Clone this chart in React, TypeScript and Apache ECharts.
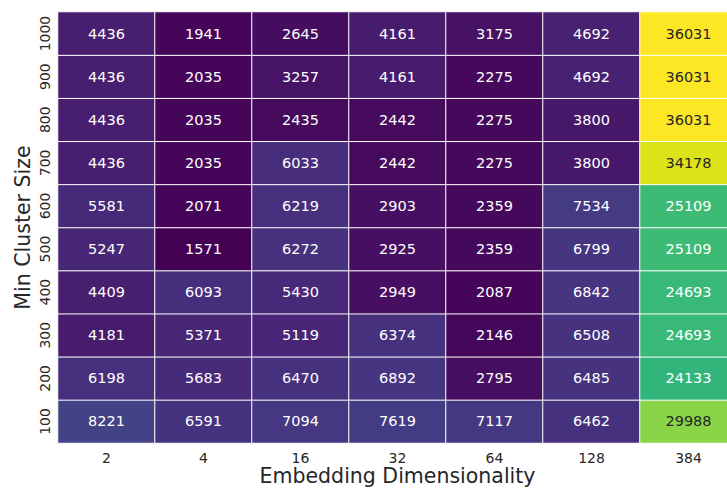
import React, { useEffect, useRef } from "react";
import * as echarts from "echarts";

// Embedding dimensionality (columns) and minimum cluster size (rows, bottom to top)
const dimensions = ["2", "4", "16", "32", "64", "128", "384"];
const clusterSizes = ["100", "200", "300", "400", "500", "600", "700", "800", "900", "1000"];

// One array per embedding dimension, ordered by min cluster size 100 → 1000
const dim2 = [8221, 6198, 4181, 4409, 5247, 5581, 4436, 4436, 4436, 4436];
const dim4 = [6591, 5683, 5371, 6093, 1571, 2071, 2035, 2035, 2035, 1941];
const dim16 = [7094, 6470, 5119, 5430, 6272, 6219, 6033, 2435, 3257, 2645];
const dim32 = [7619, 6892, 6374, 2949, 2925, 2903, 2442, 2442, 4161, 4161];
const dim64 = [7117, 2795, 2146, 2087, 2359, 2359, 2275, 2275, 2275, 3175];
const dim128 = [6462, 6485, 6508, 6842, 6799, 7534, 3800, 3800, 4692, 4692];
const dim384 = [29988, 24133, 24693, 24693, 25109, 25109, 34178, 36031, 36031, 36031];

const columns = [dim2, dim4, dim16, dim32, dim64, dim128, dim384];

// viridis sampled every 5%
const viridis = [
  "#440154", "#471365", "#482475", "#463480", "#414487", "#3b528b", "#355f8d",
  "#2f6c8e", "#2a788e", "#25848e", "#21918c", "#1e9c89", "#22a884", "#2fb47c",
  "#44bf70", "#5ec962", "#7ad151", "#9bd93c", "#bddf26", "#dfe318", "#fde725",
];

const hexToRgb = (h: string) => [
  parseInt(h.slice(1, 3), 16),
  parseInt(h.slice(3, 5), 16),
  parseInt(h.slice(5, 7), 16),
];

const colorAt = (t: number) => {
  const p = Math.min(Math.max(t, 0), 1) * (viridis.length - 1);
  const i = Math.min(Math.floor(p), viridis.length - 2);
  const f = p - i;
  const a = hexToRgb(viridis[i]);
  const b = hexToRgb(viridis[i + 1]);
  return a.map((v, k) => v + (b[k] - v) * f);
};

const luminance = (rgb: number[]) => {
  const c = rgb.map((v) => {
    const s = v / 255;
    return s <= 0.03928 ? s / 12.92 : Math.pow((s + 0.055) / 1.055, 2.4);
  });
  return 0.2126 * c[0] + 0.7152 * c[1] + 0.0722 * c[2];
};

const FONT = "DejaVu Sans";
const INK = "#262626";

export default function App() {
  const ref = useRef<HTMLDivElement>(null);

  useEffect(() => {
    if (!ref.current) return;
    const chart = echarts.init(ref.current, undefined, { renderer: "svg" });

    const all = columns.flat();
    const vmin = Math.min(...all);
    const vmax = Math.max(...all);

    const data = columns.flatMap((col, x) =>
      col.map((v, y) => {
        const lum = luminance(colorAt((v - vmin) / (vmax - vmin)));
        return {
          value: [x, y, v],
          label: { color: lum > 0.408 ? INK : "#ffffff" },
        };
      })
    );

    chart.setOption({
      animation: false,
      backgroundColor: "#ffffff",
      textStyle: { fontFamily: FONT },
      // the last column runs past the right edge of the canvas
      grid: { left: 58, top: 12, width: 679, height: 431, outerBoundsMode: "none", containLabel: false },
      xAxis: {
        type: "category",
        data: dimensions,
        name: "Embedding Dimensionality",
        nameLocation: "middle",
        nameGap: 23,
        nameMoveOverlap: false,
        nameTextStyle: { fontSize: 20.5, lineHeight: 20, color: INK, fontFamily: FONT },
        axisLine: { show: false },
        axisTick: { show: false },
        splitLine: { show: false },
        axisLabel: { fontSize: 14, lineHeight: 14, color: INK, margin: 8, interval: 0, fontFamily: FONT },
      },
      yAxis: {
        type: "category",
        data: clusterSizes,
        name: "Min Cluster Size",
        nameLocation: "middle",
        nameGap: 25,
        nameMoveOverlap: false,
        nameTextStyle: { fontSize: 20.5, color: INK, fontFamily: FONT },
        axisLine: { show: false },
        axisTick: { show: false },
        splitLine: { show: false },
        axisLabel: { fontSize: 14, color: INK, margin: 6, rotate: 90, interval: 0, fontFamily: FONT },
      },
      visualMap: {
        show: false,
        type: "continuous",
        min: vmin,
        max: vmax,
        dimension: 2,
        inRange: { color: viridis },
      },
      series: [
        {
          type: "heatmap",
          data,
          itemStyle: { borderColor: "#ffffff", borderWidth: 1 },
          label: { show: true, fontSize: 14.5, fontFamily: FONT },
          emphasis: { disabled: true },
        },
      ],
    });

    return () => chart.dispose();
  }, []);

  return (
    <div
      ref={ref}
      style={{ position: "absolute", left: 0, top: 0, width: 727, height: 488 }}
    />
  );
}
